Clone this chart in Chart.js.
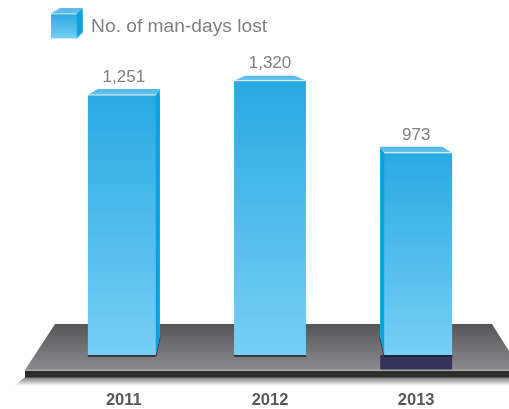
<!DOCTYPE html>
<html>
<head>
<meta charset="utf-8">
<style>
  html, body { margin: 0; padding: 0; background: #fff; }
  canvas { display: block; }
</style>
<script src="https://cdn.jsdelivr.net/npm/chart.js@4"></script>
</head>
<body>
<canvas id="manDaysChart" width="509" height="409"></canvas>
<script>
const years = ['2011', '2012', '2013'];
const manDaysLost = [1251, 1320, 973];
const seriesLabel = 'No. of man-days lost';

const FONT = '"Liberation Sans", Arial, sans-serif';

function barGradient(ctx, top, bottom) {
  const g = ctx.createLinearGradient(0, top, 0, bottom);
  g.addColorStop(0, '#29a9e2');
  g.addColorStop(1, '#76cff6');
  return g;
}

function poly(ctx, pts, fill) {
  ctx.beginPath();
  pts.forEach((p, i) => i ? ctx.lineTo(p[0], p[1]) : ctx.moveTo(p[0], p[1]));
  ctx.closePath();
  ctx.fillStyle = fill;
  ctx.fill();
}

// little cube used as the legend marker, blank space on the right keeps it left of the text
function makeLegendCube() {
  const c = document.createElement('canvas');
  c.width = 41;
  c.height = 36;
  const x = c.getContext('2d');
  x.fillStyle = barGradient(x, 5, 30);
  x.fillRect(0, 5, 26, 25);
  poly(x, [[0, 5], [9, 0], [32, 0], [26, 5]], '#5cbbe8');
  poly(x, [[26, 5], [32, 0], [32, 24], [26, 30]], '#0aa2e2');
  x.fillStyle = 'rgba(255,255,255,0.8)';
  x.fillRect(0, 5, 26, 1);
  return c;
}

// grey stage the bars stand on
function drawPlatform(ctx) {
  const w = ctx.canvas.width;
  const shadow = ctx.createLinearGradient(0, 377, 0, 386);
  shadow.addColorStop(0, '#777');
  shadow.addColorStop(1, '#fff');
  poly(ctx, [[25, 377], [w, 377], [w, 386], [14, 386]], shadow);

  const top = ctx.createLinearGradient(0, 324, 0, 370);
  top.addColorStop(0, '#555657');
  top.addColorStop(1, '#8b8b8f');
  poly(ctx, [[55, 324], [492, 324], [w + 12, 370], [25, 370]], top);

  ctx.fillStyle = '#a9a9a9';
  ctx.fillRect(25, 369.5, w - 25, 1.5);
  ctx.fillStyle = '#2c2d2d';
  ctx.fillRect(25, 371, w - 25, 6.5);
}

const stagePlugin = {
  id: 'stage',
  beforeDatasetsDraw(chart) {
    const ctx = chart.ctx;
    ctx.save();
    drawPlatform(ctx);
    ctx.restore();
  },
  afterDatasetsDraw(chart) {
    const ctx = chart.ctx;
    const mid = (chart.chartArea.left + chart.chartArea.right) / 2;
    const baseY = chart.scales.y.getPixelForValue(0);
    ctx.save();
    chart.getDatasetMeta(0).data.forEach((bar, i) => {
      const half = bar.width / 2;
      const left = bar.x - half;
      const right = bar.x + half;
      const top = bar.y;
      const side = bar.x < mid - 20 ? 1 : bar.x > mid + 20 ? -1 : 0;
      const isLast = i === years.length - 1;

      // the part of the footprint hidden by perspective goes back to stage colour
      if (side) {
        const outer = side > 0 ? right : left;
        const inner = outer - side * 4;
        ctx.save();
        ctx.beginPath();
        ctx.moveTo(outer, baseY - 18);
        ctx.lineTo(outer + side, baseY - 18);
        ctx.lineTo(outer + side, baseY + 1);
        ctx.lineTo(inner, baseY + 1);
        ctx.closePath();
        ctx.clip();
        drawPlatform(ctx);
        ctx.restore();

        poly(ctx, [[inner, baseY], [outer, baseY - 18], [outer + side * 0.8, baseY - 18], [inner + side, baseY + 1]], '#3a3a3c');
        poly(ctx, [[inner, top], [outer, top - 6], [outer, baseY - 18], [inner, baseY]], '#08a2e4');
      }

      // foot shadow
      const faceL = side < 0 ? left + 4 : left;
      const faceR = side > 0 ? right - 4 : right;
      if (isLast) {
        ctx.fillStyle = '#35335a';
        ctx.fillRect(left, baseY, right - left, 14.5);
      }
      ctx.fillStyle = isLast ? '#22213c' : '#37383a';
      ctx.fillRect(faceL, baseY, faceR - faceL, 2);

      // top cap
      let cap;
      if (side > 0) cap = [[faceL, top], [faceL + 10, top - 6], [right, top - 6], [faceR, top]];
      else if (side < 0) cap = [[faceL, top], [left, top - 6], [faceR - 10, top - 6], [faceR, top]];
      else cap = [[faceL, top], [faceL + 11, top - 5], [faceR - 11, top - 5], [faceR, top]];
      const capFill = ctx.createLinearGradient(0, top - 6, 0, top);
      capFill.addColorStop(0, '#4fb6e8');
      capFill.addColorStop(1, '#6cc3ec');
      poly(ctx, cap, capFill);
      ctx.fillStyle = 'rgba(255,255,255,0.85)';
      ctx.fillRect(faceL, top - 0.5, faceR - faceL, 1);

      // value label
      ctx.font = '17px ' + FONT;
      ctx.fillStyle = '#808080';
      ctx.textAlign = 'center';
      ctx.textBaseline = 'alphabetic';
      ctx.fillText(manDaysLost[i].toLocaleString('en-US'), bar.x, top - 13);
    });
    ctx.restore();
  }
};

const ctx = document.getElementById('manDaysChart').getContext('2d');
const manDaysChart = new Chart(ctx, {
  type: 'bar',
  data: {
    labels: years,
    datasets: [{
      label: seriesLabel,
      data: manDaysLost,
      backgroundColor: (context) => {
        const chart = context.chart;
        if (!chart.chartArea || context.raw === undefined) return '#29a9e2';
        const y = chart.scales.y;
        return barGradient(chart.ctx, y.getPixelForValue(context.raw), y.getPixelForValue(0));
      },
      borderWidth: 0,
      barPercentage: 0.492,
      categoryPercentage: 1
    }]
  },
  options: {
    responsive: false,
    animation: false,
    layout: {
      padding: { left: 50.75, right: 19.75, top: 6.5, bottom: 0 }
    },
    scales: {
      x: {
        grid: { display: false, drawTicks: false },
        border: { display: false },
        afterFit(axis) {
          axis.height = 54;
        },
        ticks: {
          padding: 36,
          maxRotation: 0,
          color: '#595959',
          font: { family: FONT, size: 16.5, weight: 'bold' }
        }
      },
      y: {
        display: false,
        min: 0,
        max: 1487
      }
    },
    plugins: {
      tooltip: { enabled: false },
      legend: {
        position: 'top',
        align: 'start',
        labels: {
          usePointStyle: true,
          pointStyle: makeLegendCube(),
          pointStyleWidth: 20.5,
          padding: 10.25,
          color: '#808080',
          font: { family: FONT, size: 19.2 }
        }
      }
    }
  },
  plugins: [stagePlugin]
});
</script>
</body>
</html>
